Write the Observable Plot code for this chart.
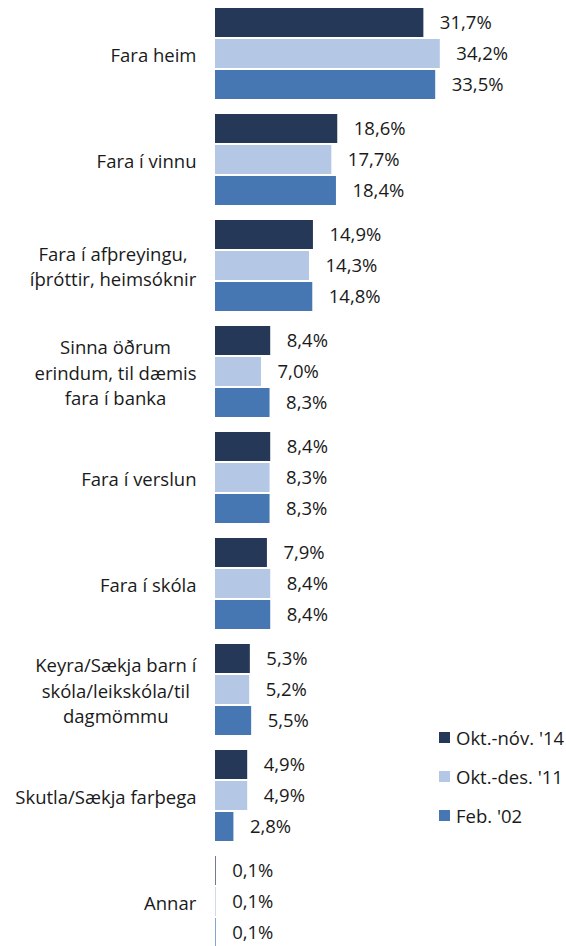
<!DOCTYPE html>
<html><head><meta charset="utf-8">
<script src="https://cdn.jsdelivr.net/npm/d3@7"></script>
<script src="https://cdn.jsdelivr.net/npm/@observablehq/plot@0.6"></script>
<style>
body{margin:0;background:#fff;}
#wrap{position:relative;width:566px;height:946px;overflow:hidden;font-family:"Open Sans",sans-serif;color:#1a1a1a;}
#legend{position:absolute;left:439px;top:718px;font-size:18.5px;}
#legend .row{display:flex;align-items:center;height:39px;white-space:nowrap;}
#legend .sw{width:11px;height:11px;margin-right:6px;flex:none;}
</style></head><body><div id="wrap"></div>
<script>
const categories = [
  "Fara heim",
  "Fara í vinnu",
  "Fara í afþreyingu,\níþróttir, heimsóknir",
  "Sinna öðrum\nerindum, til dæmis\nfara í banka",
  "Fara í verslun",
  "Fara í skóla",
  "Keyra/Sækja barn í\nskóla/leikskóla/til\ndagmömmu",
  "Skutla/Sækja farþega",
  "Annar"
];
const series = ["Okt.-nóv. '14", "Okt.-des. '11", "Feb. '02"];
const values2014 = [31.7, 18.6, 14.9, 8.4, 8.4, 7.9, 5.3, 4.9, 0.1];
const values2011 = [34.2, 17.7, 14.3, 7.0, 8.3, 8.4, 5.2, 4.9, 0.1];
const values2002 = [33.5, 18.4, 14.8, 8.3, 8.3, 8.4, 5.5, 2.8, 0.1];
const colors = ["#253858", "#b4c7e4", "#4677b2"];

const seriesValues = [values2014, values2011, values2002];
const data = [];
categories.forEach((c, i) => {
  series.forEach((s, j) => data.push({category: c, series: s, value: seriesValues[j][i]}));
});
const fmt = v => v.toFixed(1).replace(".", ",") + "%";
const FONT = "'Open Sans', sans-serif";
const FS = 18.5;

const chart = Plot.plot({
  width: 566, height: 946,
  marginLeft: 215, marginRight: 0, marginTop: 0, marginBottom: 0,
  style: {fontFamily: FONT, fontSize: FS + "px", color: "#1a1a1a", background: "#fff"},
  x: {domain: [0, 53.4], axis: null},
  fy: {domain: categories, range: [0, 954], paddingInner: 0.132, paddingOuter: 0.066, label: null},
  y: {domain: series, paddingInner: 0.08, paddingOuter: 0, axis: null},
  color: {domain: series, range: colors},
  marks: [
    Plot.barX(data, {x: "value", y: "series", fy: "category", fill: "series"}),
    Plot.text(data, {x: "value", y: "series", fy: "category", text: d => fmt(d.value), textAnchor: "start", dx: 16, fontSize: FS, fill: "#1a1a1a"}),
    Plot.axisFy({anchor: "left", tickSize: 0, tickPadding: 19, fontSize: FS, lineHeight: 1.38, label: null, color: "#1a1a1a"})
  ]
});
const wrap = document.getElementById("wrap");
wrap.appendChild(chart);

// center multi-line category labels, right edge kept at the axis
chart.querySelectorAll('g[aria-label="fy-axis tick label"] text').forEach(t => {
  const w = t.getBBox().width;
  t.setAttribute("text-anchor", "middle");
  t.setAttribute("transform", (t.getAttribute("transform") || "") + ` translate(${-w / 2},0)`);
});

// legend
const legend = document.createElement("div");
legend.id = "legend";
series.forEach((s, j) => {
  const row = document.createElement("div");
  row.className = "row";
  const sw = document.createElement("span");
  sw.className = "sw";
  sw.style.background = colors[j];
  const tx = document.createElement("span");
  tx.textContent = s;
  row.appendChild(sw); row.appendChild(tx);
  legend.appendChild(row);
});
wrap.appendChild(legend);
</script>
</body></html>
